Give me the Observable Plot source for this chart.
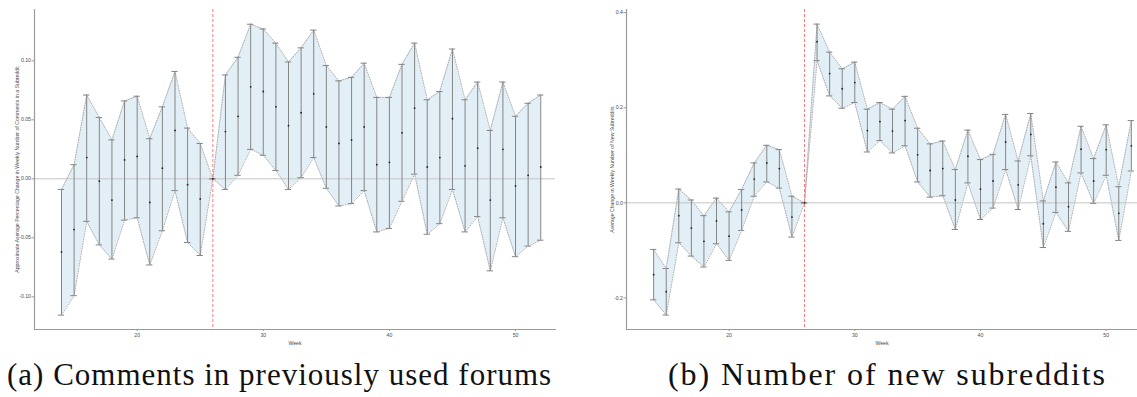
<!DOCTYPE html>
<html>
<head>
<meta charset="utf-8">
<script src="https://cdn.jsdelivr.net/npm/d3@7"></script>
<script src="https://cdn.jsdelivr.net/npm/@observablehq/plot@0.6"></script>
<style>
  body { margin: 0; background: #fff; width: 1137px; height: 397px; overflow: hidden; position: relative; font-family: "Liberation Sans", Arial, sans-serif; }
  .panel { position: absolute; top: 0; }
  .cap { position: absolute; font-family: "Liberation Serif", serif; font-size: 31px; color: #111; white-space: nowrap; line-height: 1; }
</style>
</head>
<body>
<div id="panelA" class="panel" style="left:0px"></div>
<div id="panelB" class="panel" style="left:570px"></div>
<div class="cap" style="left:7px;top:359px;letter-spacing:1px">(a) Comments in previously used forums</div>
<div class="cap" style="left:668px;top:358px;font-size:32px;letter-spacing:1.9px">(b) Number of new subreddits</div>
<script>
// Event-study estimates by week, with 95% confidence bounds (week 26 is the reference week)
const weeks = [14, 15, 16, 17, 18, 19, 20, 21, 22, 23, 24, 25, 26, 27, 28, 29, 30, 31, 32, 33,
               34, 35, 36, 37, 38, 39, 40, 41, 42, 43, 44, 45, 46, 47, 48, 49, 50, 51, 52];

// (a) approximate average percentage change in weekly comments in a subreddit
const commentsEst = [-0.062, -0.043, 0.018, -0.002, -0.018, 0.016, 0.019, -0.020, 0.009, 0.041, -0.005, -0.017, 0,
                     0.040, 0.053, 0.078, 0.074, 0.061, 0.045, 0.056, 0.072, 0.044, 0.030, 0.033, 0.044, 0.012,
                     0.014, 0.039, 0.060, 0.010, 0.018, 0.051, 0.011, 0.026, -0.018, 0.025, -0.006, 0.003, 0.010];
const commentsLower = [-0.1155, -0.099, -0.036, -0.056, -0.068, -0.035, -0.033, -0.073, -0.044, -0.010, -0.054, -0.065, 0,
                       -0.009, 0.003, 0.025, 0.020, 0.007, -0.009, 0.001, 0.018, -0.008, -0.023, -0.021, -0.010, -0.045,
                       -0.042, -0.019, 0.004, -0.047, -0.038, -0.009, -0.045, -0.032, -0.078, -0.033, -0.066, -0.057, -0.052];
const commentsUpper = [-0.009, 0.012, 0.071, 0.052, 0.033, 0.066, 0.070, 0.034, 0.061, 0.091, 0.043, 0.030, 0,
                       0.088, 0.103, 0.131, 0.127, 0.115, 0.099, 0.111, 0.126, 0.096, 0.083, 0.086, 0.098, 0.069,
                       0.069, 0.097, 0.115, 0.067, 0.074, 0.110, 0.067, 0.082, 0.041, 0.082, 0.053, 0.064, 0.071];

// (b) average change in weekly number of new subreddits
const subsEst = [-0.151, -0.187, -0.027, -0.053, -0.081, -0.038, -0.070, -0.015, 0.050, 0.084, 0.072, -0.030, 0,
                 0.339, 0.272, 0.240, 0.253, 0.152, 0.171, 0.151, 0.173, 0.101, 0.068, 0.072, 0.006, 0.098,
                 0.029, 0.046, 0.128, 0.038, 0.144, -0.044, 0.033, -0.008, 0.113, 0.046, 0.112, -0.022, 0.120];
const subsLower = [-0.204, -0.236, -0.084, -0.112, -0.135, -0.086, -0.121, -0.058, 0.014, 0.044, 0.031, -0.072, 0,
                   0.299, 0.225, 0.199, 0.211, 0.107, 0.131, 0.105, 0.120, 0.044, 0.012, 0.015, -0.056, 0.042,
                   -0.035, -0.011, 0.070, -0.014, 0.099, -0.094, -0.020, -0.060, 0.063, -0.001, 0.058, -0.079, 0.067];
const subsUpper = [-0.098, -0.138, 0.029, 0.006, -0.027, 0.010, -0.019, 0.028, 0.084, 0.121, 0.112, 0.014, 0,
                   0.376, 0.317, 0.282, 0.296, 0.197, 0.211, 0.197, 0.224, 0.157, 0.124, 0.130, 0.070, 0.153,
                   0.091, 0.102, 0.186, 0.088, 0.188, 0.004, 0.086, 0.042, 0.161, 0.093, 0.164, 0.034, 0.173];

const weekTicks = [20, 30, 40, 50];
const commentsTicks = [-0.10, -0.05, 0.00, 0.05, 0.10];
const subsTicks = [-0.2, 0.0, 0.2, 0.4];
const treatmentWeek = 26;

function rowsOf(est, lo, hi) {
  return weeks.map((w, i) => ({week: w, est: est[i], lo: lo[i], hi: hi[i]}));
}

function panel({rows, width, marginLeft, marginRight, xDomain, yDomain, yTicks, yFormat, yLabel, yLabelOffset}) {
  const bar = "#858585";
  const cap = 0.25;
  return Plot.plot({
    width,
    height: 350,
    marginTop: 9,
    marginBottom: 21,
    marginLeft,
    marginRight,
    style: {background: "transparent", fontFamily: "Liberation Sans, Arial, sans-serif", color: "#4d4d4d"},
    x: {domain: xDomain},
    y: {domain: yDomain},
    marks: [
      // confidence ribbon
      Plot.areaY(rows, {x: "week", y1: "lo", y2: "hi", fill: "#e3eff7"}),
      Plot.lineY(rows, {x: "week", y: "hi", stroke: "#9a9a9a", strokeWidth: 0.8, strokeDasharray: "1,1.5"}),
      Plot.lineY(rows, {x: "week", y: "lo", stroke: "#9a9a9a", strokeWidth: 0.8, strokeDasharray: "1,1.5"}),
      // reference lines
      Plot.ruleY([0], {stroke: "#c4c4c4", strokeWidth: 1}),
      Plot.ruleX([treatmentWeek], {stroke: "#ff7b7b", strokeWidth: 1, strokeDasharray: "3,2"}),
      // error bars with caps
      Plot.ruleX(rows, {x: "week", y1: "lo", y2: "hi", stroke: bar, strokeWidth: 1}),
      Plot.ruleY(rows, {y: "hi", x1: d => d.week - cap, x2: d => d.week + cap, stroke: bar, strokeWidth: 1}),
      Plot.ruleY(rows, {y: "lo", x1: d => d.week - cap, x2: d => d.week + cap, stroke: bar, strokeWidth: 1}),
      // point estimates
      Plot.dot(rows, {x: "week", y: "est", r: 0.9, fill: "#222", stroke: null}),
      // axes
      Plot.frame({anchor: "left", stroke: "#9a9a9a", strokeWidth: 1.2}),
      Plot.frame({anchor: "bottom", stroke: "#9a9a9a", strokeWidth: 1.2}),
      Plot.axisX({ticks: weekTicks, tickSize: 2, tickPadding: 1.5, fontSize: 5.2, stroke: "#9a9a9a",
                  label: "Week", labelAnchor: "center", labelArrow: "none", labelOffset: 15}),
      Plot.axisY({ticks: yTicks, tickFormat: yFormat, tickSize: 2.5, tickPadding: 1, fontSize: 5.2, stroke: "#9a9a9a",
                  label: yLabel, labelAnchor: "center", labelArrow: "none", labelOffset: yLabelOffset})
    ]
  });
}

document.getElementById("panelA").append(panel({
  rows: rowsOf(commentsEst, commentsLower, commentsUpper),
  width: 560,
  marginLeft: 34,
  marginRight: 5,
  xDomain: [11.86, 53.17],
  yDomain: [-0.1277, 0.1435],
  yTicks: commentsTicks,
  yFormat: d => d.toFixed(2),
  yLabel: "Approximate Average Percentage Change in Weekly Number of Comments in a Subreddit",
  yLabelOffset: 19
}));

document.getElementById("panelB").append(panel({
  rows: rowsOf(subsEst, subsLower, subsUpper),
  width: 567,
  marginLeft: 56,
  marginRight: 0,
  xDomain: [11.84, 52.49],
  yDomain: [-0.2664, 0.4067],
  yTicks: subsTicks,
  yFormat: d => d.toFixed(1),
  yLabel: "Average Change in Weekly Number of New Subreddits",
  yLabelOffset: 16
}));
</script>
</body>
</html>
